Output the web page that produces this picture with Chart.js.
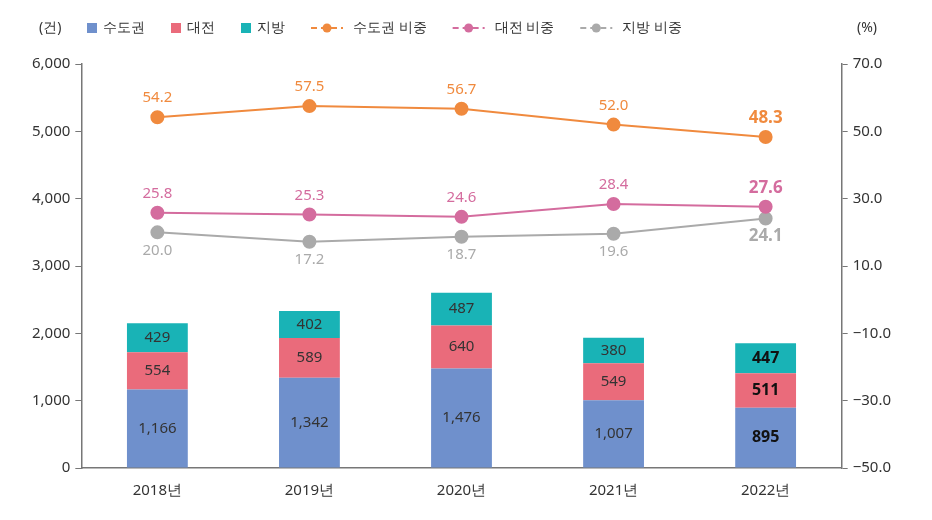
<!DOCTYPE html>
<html>
<head>
<meta charset="utf-8">
<script src="https://cdn.jsdelivr.net/npm/chart.js@4"></script>
<style>
  html, body { margin: 0; padding: 0; background: #fff; }
  #wrap { width: 932px; height: 520px; }
</style>
</head>
<body>
<div id="wrap"><canvas id="chart"></canvas></div>
<script>
// Data
const years = ["2018년", "2019년", "2020년", "2021년", "2022년"];
const metro = [1166, 1342, 1476, 1007, 895];
const daejeon = [554, 589, 640, 549, 511];
const regional = [429, 402, 487, 380, 447];
const metroShare = [54.2, 57.5, 56.7, 52.0, 48.3];
const daejeonShare = [25.8, 25.3, 24.6, 28.4, 27.6];
const regionalShare = [20.0, 17.2, 18.7, 19.6, 24.1];

const FONT = "'Noto Sans', sans-serif";
const colors = {
  metro: "#6f90cc", daejeon: "#ea6b7b", regional: "#19b3b6",
  metroLine: "#f08a3e", daejeonLine: "#d46c9e", regionalLine: "#aaaaaa"
};

function fmt(v) { return v.toLocaleString("en-US"); }

// value labels on bars and points
const labelPlugin = {
  id: "labels",
  afterDatasetsDraw(chart) {
    const ctx = chart.ctx;
    ctx.save();
    ctx.textAlign = "center";
    ctx.textBaseline = "middle";
    chart.data.datasets.forEach((ds, i) => {
      const meta = chart.getDatasetMeta(i);
      meta.data.forEach((el, j) => {
        const last = j === ds.data.length - 1;
        if (ds.type === "bar") {
          const mid = (el.y + el.base) / 2;
          ctx.fillStyle = last ? "#111" : "#333";
          ctx.font = (last ? "bold 16px " : "15px ") + FONT;
          ctx.fillText(fmt(ds.data[j]), el.x, mid);
        } else {
          ctx.fillStyle = ds.borderColor;
          ctx.font = (last ? "bold 17px " : "15px ") + FONT;
          const dy = ds.labelBelow ? 18 : -19;
          ctx.fillText(ds.data[j].toFixed(1), el.x, el.y + dy);
        }
      });
    });
    ctx.restore();
  }
};

// legend row and unit labels
const legendPlugin = {
  id: "legendRow",
  afterDraw(chart) {
    const ctx = chart.ctx;
    const y = 28;
    ctx.save();
    ctx.font = "14px " + FONT;
    ctx.fillStyle = "#333";
    ctx.textBaseline = "middle";
    ctx.textAlign = "left";
    ctx.fillText("(건)", 39, y);
    ctx.fillText("(%)", 857, y);
    const order = [3, 4, 5, 0, 1, 2];
    let x = 87;
    order.forEach(i => {
      const ds = chart.data.datasets[i];
      if (ds.type === "bar") {
        ctx.fillStyle = ds.backgroundColor;
        ctx.fillRect(x, y - 5, 10, 10);
        x += 16;
      } else {
        ctx.strokeStyle = ds.borderColor;
        ctx.lineWidth = 2;
        ctx.setLineDash([6, 4]);
        ctx.beginPath(); ctx.moveTo(x, y); ctx.lineTo(x + 32, y); ctx.stroke();
        ctx.setLineDash([]);
        ctx.fillStyle = ds.borderColor;
        ctx.beginPath(); ctx.arc(x + 16, y, 4.5, 0, Math.PI * 2); ctx.fill();
        x += 42;
      }
      ctx.fillStyle = "#333";
      ctx.fillText(ds.label, x, y);
      x += ctx.measureText(ds.label).width + 26;
    });
    ctx.restore();
  }
};

const ctx = document.getElementById("chart").getContext("2d");
new Chart(ctx, {
  data: {
    labels: years,
    datasets: [
      { type: "line", label: "수도권 비중", data: metroShare, yAxisID: "y1",
        borderColor: colors.metroLine, backgroundColor: colors.metroLine,
        borderWidth: 2, pointRadius: 6, pointHoverRadius: 6, order: 0 },
      { type: "line", label: "대전 비중", data: daejeonShare, yAxisID: "y1",
        borderColor: colors.daejeonLine, backgroundColor: colors.daejeonLine,
        borderWidth: 2, pointRadius: 6, pointHoverRadius: 6, order: 0 },
      { type: "line", label: "지방 비중", data: regionalShare, yAxisID: "y1",
        borderColor: colors.regionalLine, backgroundColor: colors.regionalLine,
        borderWidth: 2, pointRadius: 6, pointHoverRadius: 6, order: 0, labelBelow: true },
      { type: "bar", label: "수도권", data: metro, yAxisID: "y",
        backgroundColor: colors.metro, barPercentage: 0.8, categoryPercentage: 0.5, order: 1 },
      { type: "bar", label: "대전", data: daejeon, yAxisID: "y",
        backgroundColor: colors.daejeon, barPercentage: 0.8, categoryPercentage: 0.5, order: 1 },
      { type: "bar", label: "지방", data: regional, yAxisID: "y",
        backgroundColor: colors.regional, barPercentage: 0.8, categoryPercentage: 0.5, order: 1 }
    ]
  },
  options: {
    responsive: true,
    maintainAspectRatio: false,
    animation: false,
    layout: { padding: { left: 27, right: 36, top: 64, bottom: 14 } },
    plugins: {
      tooltip: { enabled: false },
      legend: { display: false }
    },
    scales: {
      x: {
        stacked: true,
        grid: { display: false },
        border: { display: true, color: "#777", width: 1.5 },
        ticks: { font: { family: FONT, size: 15 }, color: "#333", padding: 6 }
      },
      y: {
        stacked: true,
        position: "left",
        min: 0, max: 6000,
        grid: { drawOnChartArea: false, drawTicks: true, tickLength: 6, color: "#777" },
        border: { display: true, color: "#777", width: 1.5 },
        ticks: { stepSize: 1000, font: { family: FONT, size: 15 }, color: "#333",
          padding: 5, callback: v => fmt(v) }
      },
      y1: {
        position: "right",
        min: -50, max: 70,
        grid: { drawOnChartArea: false, drawTicks: true, tickLength: 6, color: "#777" },
        border: { display: true, color: "#777", width: 1.5 },
        ticks: { stepSize: 20, font: { family: FONT, size: 15 }, color: "#333",
          padding: 5, callback: v => (v < 0 ? "\u2212" + Math.abs(v).toFixed(1) : v.toFixed(1)) }
      }
    }
  },
  plugins: [labelPlugin, legendPlugin]
});
</script>
</body>
</html>
